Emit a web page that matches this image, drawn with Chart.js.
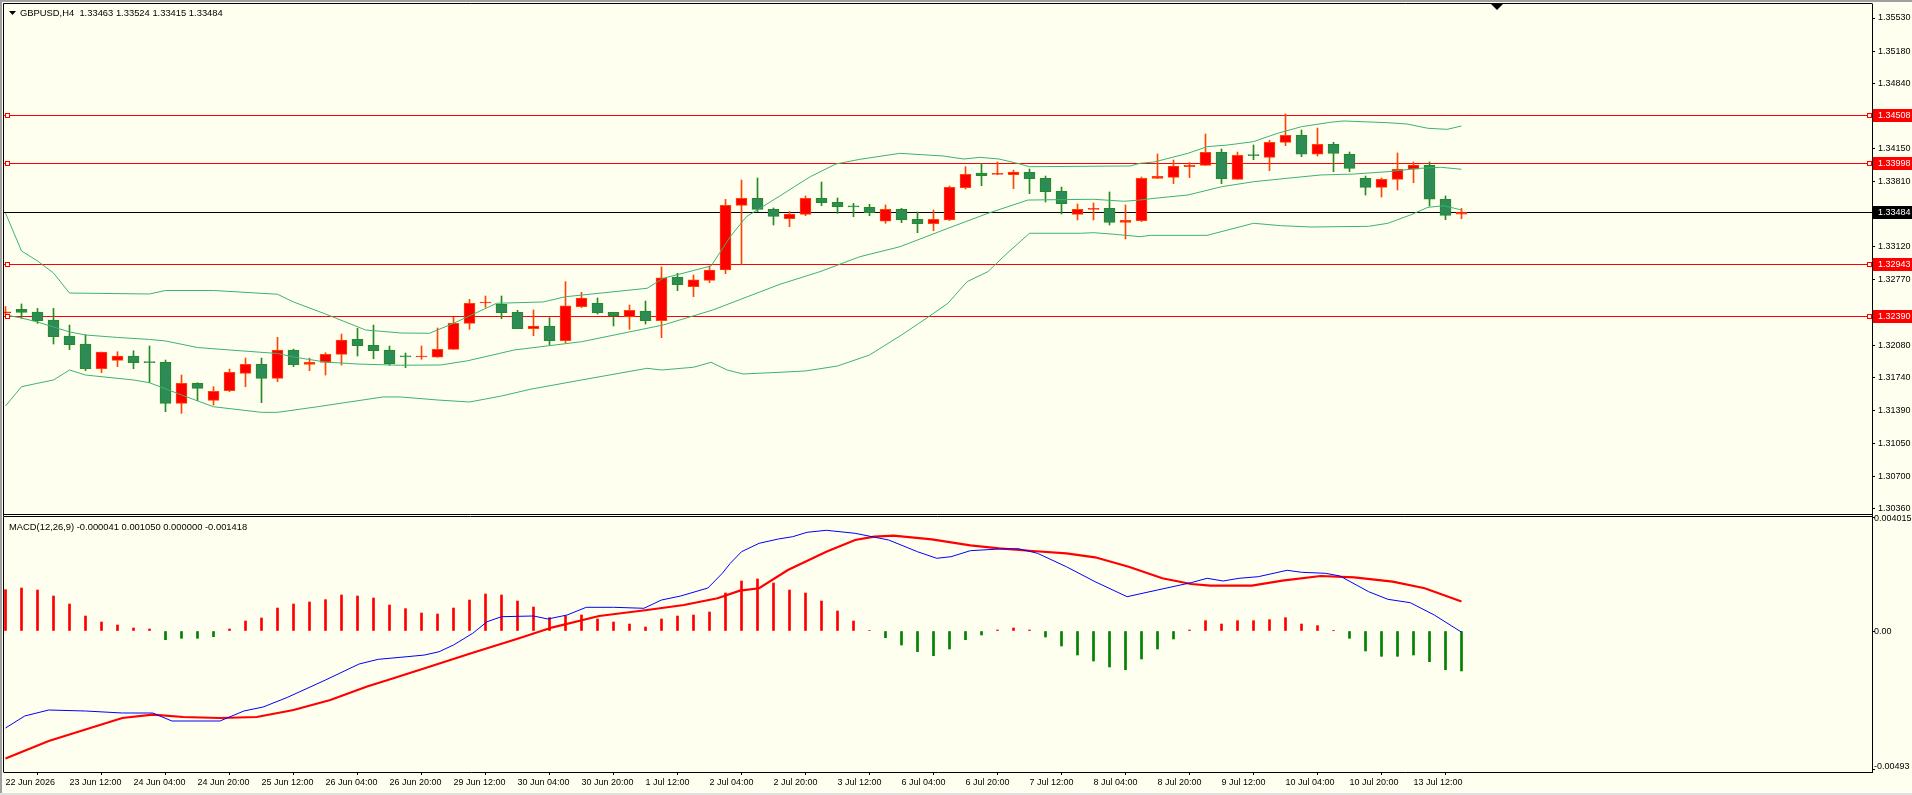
<!DOCTYPE html>
<html>
<head>
<meta charset="utf-8">
<title>GBPUSD,H4</title>
<script src="https://cdn.jsdelivr.net/npm/chart.js@4.4.1/dist/chart.umd.min.js"></script>
<style>
  html, body { margin: 0; padding: 0; background: #FFFFF0; overflow: hidden; }
  #wrap { position: relative; width: 1912px; height: 795px; }
  canvas { position: absolute; left: 0; }
  #main { top: 0; }
  #macd { top: 506px; }
</style>
</head>
<body>
<div id="wrap">
  <canvas id="main" width="1912" height="516"></canvas>
  <canvas id="macd" width="1912" height="289"></canvas>
</div>
<script>
// ---- data (bar index 0 = 22 Jun 20:00, H4 bars) ----
const headerText = 'GBPUSD,H4  1.33463 1.33524 1.33415 1.33484';
const macdHeader = 'MACD(12,26,9) -0.000041 0.001050 0.000000 -0.001418';

const opens = [1.32420,1.32461,1.32432,1.32347,1.32179,1.32095,1.31835,1.31923,1.31968,1.31902,
  1.31902,1.31470,1.31680,1.31501,1.31603,1.31786,1.31880,1.31733,1.32031,1.31880,
  1.31902,1.31986,1.32144,1.32080,1.32031,1.31965,1.31958,1.31955,1.32039,1.32313,
  1.32527,1.32513,1.32429,1.32257,1.32285,1.32130,1.32489,1.32524,1.32429,1.32380,
  1.32443,1.32341,1.32801,1.32699,1.32766,1.32875,1.33556,1.33630,1.33514,1.33416,
  1.33461,1.33630,1.33588,1.33545,1.33535,1.33388,1.33514,1.33409,1.33363,1.33402,
  1.33742,1.33897,1.33883,1.33879,1.33904,1.33840,1.33704,1.33461,1.33514,1.33525,
  1.33377,1.33395,1.33841,1.33851,1.33964,1.33978,1.34115,1.33830,1.34083,1.34062,
  1.34220,1.34294,1.34094,1.34199,1.34094,1.33841,1.33746,1.33830,1.33936,1.33978,
  1.33620,1.33463];
const highs = [1.32490,1.32517,1.32470,1.32470,1.32295,1.32193,1.32010,1.32014,1.32024,1.32074,
  1.31926,1.31768,1.31687,1.31645,1.31831,1.31947,1.31947,1.32165,1.32042,1.31947,
  1.32003,1.32200,1.32260,1.32295,1.32074,1.32000,1.32074,1.32264,1.32376,1.32566,
  1.32601,1.32601,1.32450,1.32454,1.32373,1.32752,1.32640,1.32580,1.32429,1.32506,
  1.32548,1.32907,1.32840,1.32822,1.32917,1.33619,1.33823,1.33844,1.33528,1.33490,
  1.33655,1.33802,1.33634,1.33577,1.33567,1.33560,1.33525,1.33486,1.33507,1.33760,
  1.33964,1.33999,1.34013,1.33928,1.33939,1.33865,1.33749,1.33570,1.33581,1.33697,
  1.33560,1.33855,1.34097,1.34034,1.34006,1.34308,1.34150,1.34118,1.34192,1.34241,
  1.34519,1.34350,1.34371,1.34220,1.34118,1.33865,1.33844,1.34108,1.34013,1.34013,
  1.33655,1.33524];
const lows = [1.32400,1.32366,1.32312,1.32095,1.32035,1.31814,1.31793,1.31856,1.31835,1.31687,
  1.31382,1.31364,1.31498,1.31452,1.31593,1.31645,1.31477,1.31698,1.31856,1.31814,
  1.31768,1.31873,1.31968,1.31940,1.31870,1.31846,1.31934,1.31955,1.32039,1.32250,
  1.32482,1.32362,1.32257,1.32183,1.32088,1.32109,1.32478,1.32411,1.32285,1.32250,
  1.32306,1.32162,1.32657,1.32594,1.32741,1.32836,1.32935,1.33490,1.33349,1.33331,
  1.33447,1.33553,1.33472,1.33437,1.33447,1.33367,1.33374,1.33268,1.33289,1.33395,
  1.33728,1.33763,1.33880,1.33732,1.33679,1.33591,1.33465,1.33402,1.33402,1.33349,
  1.33202,1.33384,1.33841,1.33785,1.33848,1.33978,1.33785,1.33830,1.34037,1.33922,
  1.34185,1.34069,1.34076,1.33911,1.33911,1.33665,1.33644,1.33718,1.33795,1.33549,
  1.33405,1.33415];
const closes = [1.32435,1.32429,1.32340,1.32172,1.32088,1.31835,1.32010,1.31968,1.31898,1.31899,
  1.31470,1.31680,1.31628,1.31596,1.31796,1.31880,1.31733,1.32031,1.31877,1.31902,
  1.31986,1.32137,1.32077,1.32024,1.31887,1.31960,1.31963,1.32039,1.32313,1.32524,
  1.32531,1.32425,1.32257,1.32285,1.32130,1.32496,1.32580,1.32425,1.32394,1.32450,
  1.32341,1.32791,1.32720,1.32770,1.32875,1.33556,1.33630,1.33514,1.33440,1.33465,
  1.33630,1.33584,1.33542,1.33540,1.33479,1.33514,1.33405,1.33363,1.33409,1.33746,
  1.33883,1.33869,1.33886,1.33907,1.33837,1.33700,1.33574,1.33514,1.33521,1.33377,
  1.33398,1.33841,1.33862,1.33971,1.33981,1.34115,1.33837,1.34083,1.34080,1.34220,
  1.34294,1.34094,1.34199,1.34104,1.33946,1.33746,1.33830,1.33936,1.33981,1.33620,
  1.33451,1.33484];

// Bollinger bands, [bar, price] where the line was read
const upperBand = [[0,1.33475],[1,1.33075],[2,1.32970],[3,1.32843],[4,1.32632],[9,1.32622],[10,1.32659],
  [13,1.32659],[17,1.32619],[18,1.32538],[20,1.32411],[22.5,1.32243],[24.7,1.32211],[26.5,1.32208],
  [28,1.32313],[30.7,1.32524],[33.6,1.32538],[35,1.32593],[40.1,1.32682],[41.1,1.32787],[44.1,1.32917],
  [45.3,1.33226],[46.3,1.33436],[48.4,1.33655],[49.3,1.33752],[50.3,1.33858],[51.9,1.33992],
  [53.4,1.34041],[55.9,1.34104],[56.6,1.34097],[58.6,1.34076],[59.9,1.34044],[60.9,1.34062],
  [62.1,1.34044],[63.4,1.33992],[64,1.33963],[70.3,1.33971],[70.9,1.33999],[71.8,1.34013],
  [73.9,1.34104],[75.1,1.34174],[76.4,1.34192],[78,1.34227],[79.5,1.34315],[81,1.34385],
  [82.8,1.34431],[83.6,1.34445],[86.4,1.34427],[87.6,1.34413],[88.9,1.34368],[90.1,1.34357],[91,1.34392]];
const middleBand = [[0,1.32401],[1,1.32369],[2,1.32327],[4,1.32222],[5,1.32190],[7,1.32164],[9,1.32143],
  [10,1.32127],[12,1.32058],[14,1.32032],[17,1.31995],[18,1.31958],[20,1.31905],[22,1.31884],
  [24.7,1.31871],[27.2,1.31874],[28.9,1.31919],[31.8,1.32032],[36,1.32119],[41.1,1.32295],
  [44.2,1.32453],[48.4,1.32724],[50.9,1.32857],[53.4,1.33015],[55.9,1.33120],[58.9,1.33314],
  [61.4,1.33472],[63.9,1.33612],[68,1.33620],[69.9,1.33599],[70.9,1.33612],[71.8,1.33630],
  [73.9,1.33665],[76,1.33752],[78,1.33805],[80.1,1.33841],[82.2,1.33876],[84.3,1.33886],
  [86.4,1.33911],[88.4,1.33946],[89.7,1.33957],[91,1.33936]];
const lowerBand = [[0,1.31442],[1,1.31645],[2,1.31681],[3,1.31716],[4,1.31821],[5,1.31768],[8,1.31716],
  [9,1.31687],[11,1.31558],[13,1.31434],[16,1.31375],[17,1.31375],[19.5,1.31434],[21.6,1.31487],
  [23.6,1.31537],[24.7,1.31537],[27,1.31505],[29,1.31484],[31,1.31547],[32.8,1.31618],[36,1.31716],
  [40.1,1.31839],[41,1.31821],[43,1.31850],[44.1,1.31902],[45.1,1.31821],[46.1,1.31779],
  [48.4,1.31797],[50,1.31811],[52,1.31863],[54,1.31979],[56,1.32190],[57.4,1.32348],[58.9,1.32524],
  [60.1,1.32752],[61.4,1.32857],[62.6,1.33051],[64,1.33262],[67.2,1.33262],[68,1.33268],
  [69.3,1.33251],[70.9,1.33226],[71.6,1.33240],[75.1,1.33240],[78,1.33367],[79.7,1.33342],
  [81.6,1.33328],[85.2,1.33335],[86.4,1.33367],[87.8,1.33454],[88.9,1.33535],[89.9,1.33552],[91,1.33507]];

// MACD histogram, one value per bar
const macdHist = [0.001467,0.001526,0.001455,0.001242,0.000958,0.000532,0.000319,0.000213,0.000106,0.000071,
  -0.000308,-0.000260,-0.000260,-0.000201,0.000071,0.000355,0.000461,0.000816,0.000958,0.001029,
  0.001112,0.001278,0.001242,0.001171,0.000923,0.000793,0.000639,0.000603,0.000816,0.001100,
  0.001313,0.001278,0.001065,0.000852,0.000473,0.000532,0.000568,0.000426,0.000319,0.000248,
  0.000142,0.000426,0.000532,0.000568,0.000674,0.001349,0.001775,0.001846,0.001704,0.001455,
  0.001349,0.001065,0.000710,0.000355,0.000020,-0.000237,-0.000497,-0.000733,-0.000875,-0.000639,
  -0.000308,-0.000142,0.000035,0.000106,0.000035,-0.000213,-0.000532,-0.000852,-0.001065,-0.001278,
  -0.001372,-0.000994,-0.000639,-0.000284,0.000035,0.000367,0.000248,0.000367,0.000367,0.000402,
  0.000473,0.000248,0.000189,0.000010,-0.000260,-0.000710,-0.000899,-0.000899,-0.000852,-0.001088,
  -0.001372,-0.001418];
const macdMain = [[0,-0.003444],[1.2,-0.003018],[2.7,-0.002805],[5,-0.002840],[7.3,-0.002911],[9.2,-0.002911],
  [10.4,-0.003195],[13.4,-0.003195],[14.9,-0.002840],[16.1,-0.002698],[17.6,-0.002361],[20,-0.001740],
  [22.1,-0.001172],[23.3,-0.001005],[25.1,-0.000912],[26.2,-0.000852],[27.1,-0.000735],[28,-0.000497],
  [29.2,-0.000082],[30.1,0.000330],[31,0.000508],[33,0.000533],[33.9,0.000426],[35.1,0.000568],
  [36.3,0.000841],[38,0.000841],[39.9,0.000806],[41,0.001100],[42.2,0.001243],[43.9,0.001527],
  [44.8,0.002048],[45.3,0.002403],[46,0.002815],[47.1,0.003113],[48.3,0.003266],[49.2,0.003348],
  [50.1,0.003504],[51.3,0.003575],[53.1,0.003468],[55.2,0.003230],[57,0.002815],[58.2,0.002581],
  [59.1,0.002638],[60.3,0.002851],[62.1,0.002911],[63.3,0.002922],[64.5,0.002758],[66.3,0.002283],
  [68.1,0.001750],[70.1,0.001218],[72,0.001456],[74.1,0.001715],[75.1,0.001871],[76.1,0.001775],
  [77.1,0.001871],[78.3,0.001928],[80.1,0.002155],[81,0.002084],[82.5,0.002048],[83.4,0.001953],
  [85.2,0.001395],[86.4,0.001125],[87.8,0.001005],[89.3,0.000568],[91,-0.000041]];
const macdSignal = [[0,-0.004526],[2.7,-0.003905],[5.8,-0.003355],[7.3,-0.003089],[9.2,-0.002968],
  [11.1,-0.003053],[13.4,-0.003089],[15.7,-0.003053],[18,-0.002805],[20.3,-0.002450],[22.6,-0.001970],
  [23.9,-0.001740],[26.2,-0.001324],[29.2,-0.000770],[32.1,-0.000259],[34.2,0.000131],[37.1,0.000533],
  [40.1,0.000746],[42.4,0.000923],[44.5,0.001161],[45.9,0.001431],[47.1,0.001516],[48.9,0.002166],
  [51.3,0.002815],[53.1,0.003230],[54.3,0.003348],[55.5,0.003383],[57.9,0.003255],[60.3,0.003042],
  [62.1,0.002936],[64.2,0.002840],[66.3,0.002758],[68.1,0.002616],[70.2,0.002283],[72.3,0.001871],
  [74.1,0.001669],[75.3,0.001608],[77.9,0.001608],[79.8,0.001786],[82.2,0.001953],[84.3,0.001906],
  [86.7,0.001750],[88.7,0.001516],[91,0.001050]];

// price levels (horizontal lines) and axis ticks
const redLevels = [1.34508, 1.33998, 1.32943, 1.32390];
const bidLevel = 1.33484;
const priceTicks = [1.35530,1.35180,1.34840,1.34150,1.33810,1.33120,1.32770,1.32080,1.31740,1.31390,1.31050,1.30700,1.30360];
const macdTicks = [0.004015, 0, -0.00493];
const macdTickLabels = ['0.004015', '0.00', '-0.00493'];
const timeTickBars = [0,4,8,12,16,20,24,28,32,36,40,44,48,52,56,60,64,68,72,76,80,84,88];
const timeTickLabels = ['22 Jun 2026','23 Jun 12:00','24 Jun 04:00','24 Jun 20:00','25 Jun 12:00','26 Jun 04:00',
  '26 Jun 20:00','29 Jun 12:00','30 Jun 04:00','30 Jun 20:00','1 Jul 12:00','2 Jul 04:00','2 Jul 20:00',
  '3 Jul 12:00','6 Jul 04:00','6 Jul 20:00','7 Jul 12:00','8 Jul 04:00','8 Jul 20:00','9 Jul 12:00',
  '10 Jul 04:00','10 Jul 20:00','13 Jul 12:00'];

// ---- look ----
const BG = '#FFFFF0';
const FONT = "'Liberation Sans', Arial, sans-serif";
const BULL_FILL = '#FF0000', BULL_LINE = '#FF4500';
const BEAR_FILL = '#2E8B57', BEAR_LINE = '#228B22';
const BAND = '#3CB371';
const X_MIN = -0.09375, X_MAX = X_MIN + 1868 / 16;   // 16 px per bar, chart shifted left
const MACD_TOP = 10;                                  // macd canvas starts 10px above its panel

Chart.defaults.font.family = FONT;
Chart.defaults.font.size = 9;
Chart.defaults.color = '#000';

const bull = opens.map((o, i) => closes[i] >= o);
const pairs = arr => arr.map(([x, y]) => ({x, y}));

function noPad(s) { s.paddingTop = 0; s.paddingBottom = 0; s.paddingLeft = 0; s.paddingRight = 0; }

const yAxisBase = {
  position: 'right',
  grid: { drawOnChartArea: false, drawTicks: true, tickLength: 3, color: '#000' },
  border: { display: true, color: '#000' },
  ticks: { padding: 3, autoSkip: false, color: '#000', font: { size: 9 } }
};

const mainDecor = {
  id: 'mainDecor',
  beforeDraw(chart) {
    const { ctx, width, height } = chart;
    ctx.save();
    ctx.fillStyle = BG;
    ctx.fillRect(0, 0, width, height);
    ctx.fillStyle = '#A0A0A0';
    ctx.fillRect(0, 0, width, 2);
    ctx.fillRect(0, 0, 2, height);
    ctx.restore();
  },
  beforeDatasetsDraw(chart) {
    const { ctx, chartArea: a, scales: { y } } = chart;
    ctx.save();
    ctx.lineWidth = 1;
    const hline = (v, col) => {
      const py = Math.round(y.getPixelForValue(v)) + 0.5;
      ctx.strokeStyle = col;
      ctx.beginPath(); ctx.moveTo(a.left, py); ctx.lineTo(a.right, py); ctx.stroke();
    };
    redLevels.forEach(v => hline(v, '#FF0000'));
    hline(bidLevel, '#000000');
    ctx.restore();
  },
  afterDraw(chart) {
    const { ctx, chartArea: a, scales: { y } } = chart;
    ctx.save();
    // frame
    ctx.strokeStyle = '#000'; ctx.lineWidth = 1;
    ctx.beginPath();
    ctx.moveTo(3.5, 516); ctx.lineTo(3.5, 3.5); ctx.lineTo(a.right + 0.5, 3.5);
    ctx.moveTo(3.5, 514.5); ctx.lineTo(a.right, 514.5);
    ctx.stroke();
    // level markers and axis boxes
    ctx.font = '9px ' + FONT;
    ctx.textBaseline = 'middle';
    const box = (v, fill) => {
      const py = Math.round(y.getPixelForValue(v));
      ctx.fillStyle = fill;
      ctx.fillRect(a.right + 1, py - 6, 40, 13);
      ctx.fillStyle = '#FFFFFF';
      ctx.fillText(v.toFixed(5), a.right + 6, py + 0.5);
    };
    redLevels.forEach(v => {
      const py = Math.round(y.getPixelForValue(v)) + 0.5;
      ctx.fillStyle = BG; ctx.strokeStyle = '#FF0000';
      [5.5, a.right - 4.5].forEach(x0 => { ctx.fillRect(x0, py - 2, 4, 4); ctx.strokeRect(x0, py - 2, 4, 4); });
      box(v, '#FF0000');
    });
    box(bidLevel, '#000000');
    // header
    ctx.fillStyle = '#000';
    ctx.beginPath(); ctx.moveTo(9, 11); ctx.lineTo(16, 11); ctx.lineTo(12.5, 15); ctx.closePath(); ctx.fill();
    ctx.font = '9.4px ' + FONT;
    ctx.fillText(headerText, 20, 13);
    // chart shift marker
    ctx.beginPath(); ctx.moveTo(1491, 4); ctx.lineTo(1503, 4); ctx.lineTo(1497, 10); ctx.closePath(); ctx.fill();
    ctx.restore();
  }
};

new Chart(document.getElementById('main'), {
  type: 'bar',
  data: {
    datasets: [
      { type: 'line', label: 'BB upper', data: pairs(upperBand), borderColor: BAND, borderWidth: 1, pointRadius: 0, order: 0 },
      { type: 'line', label: 'BB middle', data: pairs(middleBand), borderColor: BAND, borderWidth: 1, pointRadius: 0, order: 0 },
      { type: 'line', label: 'BB lower', data: pairs(lowerBand), borderColor: BAND, borderWidth: 1, pointRadius: 0, order: 0 },
      {
        label: 'body', order: 1, grouped: false, barThickness: 11, minBarLength: 1,
        data: opens.map((o, i) => ({ x: i, y: [o, closes[i]] })),
        backgroundColor: bull.map(b => b ? BULL_FILL : BEAR_FILL),
        borderColor: bull.map(b => b ? BULL_LINE : BEAR_LINE),
        borderWidth: 1, borderSkipped: false
      },
      {
        label: 'wick', order: 2, grouped: false, barThickness: 1,
        data: highs.map((h, i) => ({ x: i, y: [lows[i], h] })),
        backgroundColor: bull.map(b => b ? BULL_LINE : BEAR_LINE)
      }
    ]
  },
  options: {
    responsive: false, animation: false, events: [],
    layout: { autoPadding: false, padding: { left: 4, top: 4, right: 0, bottom: 0 } },
    plugins: { legend: { display: false }, tooltip: { enabled: false } },
    scales: {
      x: { type: 'linear', display: false, offset: false, min: X_MIN, max: X_MAX },
      y: {
        ...yAxisBase,
        min: 1.302827, max: 1.356776,
        afterBuildTicks: s => { s.ticks = priceTicks.map(v => ({ value: v })); },
        afterFit: s => { s.width = 40; noPad(s); },
        ticks: { ...yAxisBase.ticks, callback: v => Number(v).toFixed(5) }
      }
    }
  },
  plugins: [mainDecor]
});

const macdDecor = {
  id: 'macdDecor',
  beforeDraw(chart) {
    const { ctx, width, height } = chart;
    ctx.save();
    ctx.fillStyle = BG;
    ctx.fillRect(0, MACD_TOP, width, height - MACD_TOP);
    ctx.fillStyle = '#A0A0A0';
    ctx.fillRect(0, MACD_TOP, 2, height - MACD_TOP);
    ctx.fillStyle = '#E0E0E0';
    ctx.fillRect(0, height - 2, width, 2);
    ctx.restore();
  },
  afterDraw(chart) {
    const { ctx, chartArea: a, scales: { y } } = chart;
    ctx.save();
    ctx.strokeStyle = '#000'; ctx.lineWidth = 1;
    ctx.beginPath();
    ctx.moveTo(3.5, a.bottom + 0.5); ctx.lineTo(3.5, a.top + 0.5); ctx.lineTo(a.right, a.top + 0.5);
    ctx.stroke();
    ctx.fillStyle = '#000';
    ctx.font = '9.4px ' + FONT;
    ctx.textBaseline = 'middle';
    ctx.fillText(macdHeader, 9, a.top + 11);
    // axis labels: max sits at the panel top, min at the panel bottom, zero on its value
    ctx.font = '9px ' + FONT;
    ctx.textBaseline = 'top';
    ctx.fillText(macdTickLabels[0], a.right + 2, a.top - 2);
    ctx.textBaseline = 'middle';
    ctx.fillText(macdTickLabels[1], a.right + 2, y.getPixelForValue(macdTicks[1]) + 0.5);
    ctx.textBaseline = 'bottom';
    ctx.fillText(macdTickLabels[2], a.right + 2, a.bottom - 1);
    ctx.restore();
  }
};

new Chart(document.getElementById('macd'), {
  type: 'bar',
  data: {
    datasets: [
      { type: 'line', label: 'MACD', data: pairs(macdMain), borderColor: '#0000FF', borderWidth: 1, pointRadius: 0, order: 0 },
      { type: 'line', label: 'Signal', data: pairs(macdSignal), borderColor: '#FF0000', borderWidth: 2.2, pointRadius: 0, order: 0 },
      {
        label: 'hist', order: 1, grouped: false, barThickness: 2,
        data: macdHist.map((v, i) => ({ x: i, y: v })),
        backgroundColor: macdHist.map(v => v >= 0 ? '#FF0000' : '#008000')
      }
    ]
  },
  options: {
    responsive: false, animation: false, events: [],
    layout: { autoPadding: false, padding: { left: 4, top: MACD_TOP, right: 0, bottom: 0 } },
    plugins: { legend: { display: false }, tooltip: { enabled: false } },
    scales: {
      x: {
        type: 'linear', offset: false, min: X_MIN, max: X_MAX,
        grid: { drawOnChartArea: false, drawTicks: true, tickLength: 3, color: '#000' },
        border: { display: true, color: '#000' },
        afterBuildTicks: s => { s.ticks = timeTickBars.map(v => ({ value: v })); },
        afterFit: s => { s.height = 23; noPad(s); },
        ticks: {
          align: 'start', maxRotation: 0, minRotation: 0, autoSkip: false, padding: 2,
          color: '#000', font: { size: 9 },
          callback: (v, i) => timeTickLabels[i]
        }
      },
      y: {
        ...yAxisBase,
        min: -0.0050055, max: 0.0040825,
        afterBuildTicks: s => { s.ticks = macdTicks.map(v => ({ value: v })); },
        afterFit: s => { s.width = 40; noPad(s); },
        ticks: { ...yAxisBase.ticks, display: false }
      }
    }
  },
  plugins: [macdDecor]
});
</script>
</body>
</html>
